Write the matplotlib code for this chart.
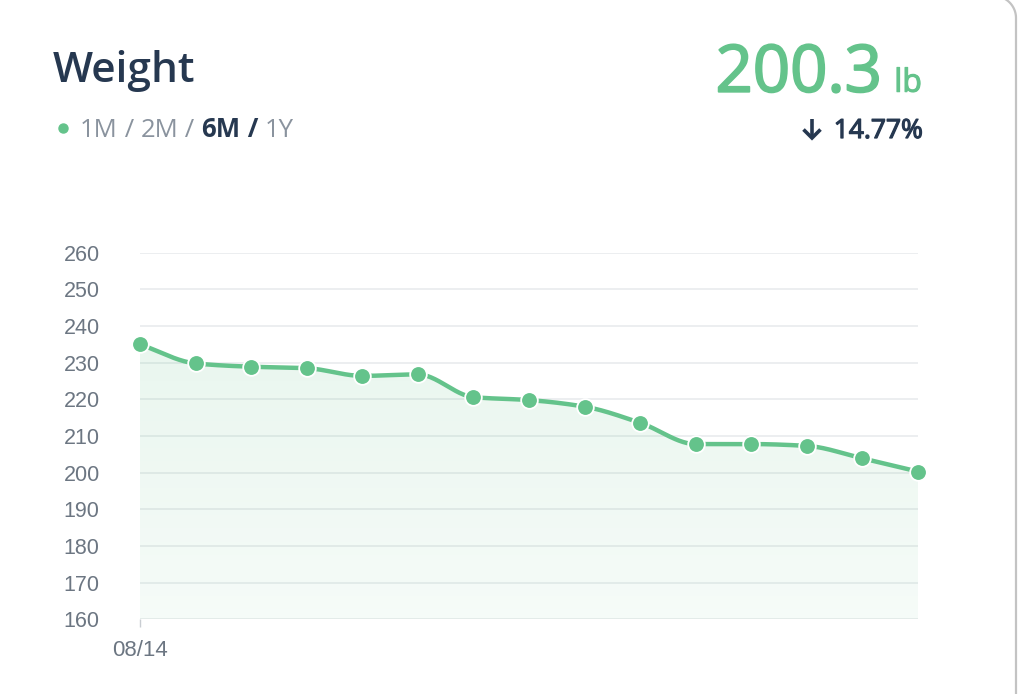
import numpy as np
import matplotlib
matplotlib.use("Agg")
import matplotlib.pyplot as plt
import matplotlib.patheffects as pe
from matplotlib.path import Path
from matplotlib.patches import PathPatch
from matplotlib.transforms import IdentityTransform

# ---- data ----
weights = [235.0, 229.8, 228.9, 228.5, 226.4, 226.8, 220.6, 219.8,
           218.0, 213.6, 207.8, 207.8, 207.3, 203.9, 200.3]
x_labels = ["08/14"]
y_ticks = [160, 170, 180, 190, 200, 210, 220, 230, 240, 250, 260]
title = "Weight"
current_value = "200.3"
unit = "lb"
change_text = "14.77%"
ranges = ["1M", "2M", "6M", "1Y"]
active_range = "6M"

GREEN = "#64c38b"
DARK = "#263850"
GRAY_TXT = "#6c7682"
GRID = "#e7e9ec"

W, H = 1020, 694
fig = plt.figure(figsize=(W / 100, H / 100), dpi=100)
fig.patch.set_facecolor("white")

x = np.arange(len(weights), dtype=float)
y = np.array(weights)

# monotone cubic (PCHIP) for the smooth line
def pchip(xk, yk, xs):
    h = np.diff(xk)
    d = np.diff(yk) / h
    n = len(xk)
    m = np.zeros(n)
    for k in range(1, n - 1):
        if d[k - 1] * d[k] <= 0:
            m[k] = 0
        else:
            w1 = 2 * h[k] + h[k - 1]
            w2 = h[k] + 2 * h[k - 1]
            m[k] = (w1 + w2) / (w1 / d[k - 1] + w2 / d[k])
    m[0] = d[0]
    m[-1] = d[-1]
    idx = np.clip(np.searchsorted(xk, xs) - 1, 0, n - 2)
    t = (xs - xk[idx]) / h[idx]
    h00 = 2 * t**3 - 3 * t**2 + 1
    h10 = t**3 - 2 * t**2 + t
    h01 = -2 * t**3 + 3 * t**2
    h11 = t**3 - t**2
    return (h00 * yk[idx] + h10 * h[idx] * m[idx] + h01 * yk[idx + 1]
            + h11 * h[idx] * m[idx + 1])

xs = np.linspace(x[0], x[-1], 600)
ys = pchip(x, y, xs)

ax = fig.add_axes([140 / W, 1 - 619.3 / H, 778 / W, 366.6 / H])
ax.set_xlim(x[0], x[-1])
ax.set_ylim(y_ticks[0], y_ticks[-1])
for s in ax.spines.values():
    s.set_visible(False)
ax.set_facecolor("none")

# gridlines
for v in y_ticks:
    ax.axhline(v, color=GRID, lw=1.1, zorder=0)

# gradient fill
grad = np.linspace(0, 1, 256)[:, None]
rgba = np.zeros((256, 1, 4))
rgba[..., 0] = 0.39
rgba[..., 1] = 0.76
rgba[..., 2] = 0.54
rgba[..., 3] = (0.14 * (1 - grad) + 0.06 * grad)[:, :]
top = ys.max()
im = ax.imshow(rgba, extent=[x[0], x[-1], y_ticks[0], top], aspect="auto",
               origin="upper", zorder=1, interpolation="bilinear")
verts = np.column_stack([np.r_[xs, xs[-1], xs[0]], np.r_[ys, y_ticks[0], y_ticks[0]]])
clip = PathPatch(Path(verts), transform=ax.transData, facecolor="none", edgecolor="none")
ax.add_patch(clip)
im.set_clip_path(clip)
ax.set_xlim(x[0], x[-1])
ax.set_ylim(y_ticks[0], y_ticks[-1])

ax.plot(xs, ys, color=GREEN, lw=3.2, zorder=3, solid_capstyle="round", clip_on=False)
ax.plot(x, y, "o", ms=12, color=GREEN, mec="white", mew=1.3, zorder=4, clip_on=False)

ax.set_yticks(y_ticks)
ax.set_yticklabels([str(v) for v in y_ticks], fontsize=15.5, color=GRAY_TXT,
                   family=["Liberation Sans", "DejaVu Sans"])
ax.tick_params(axis="y", length=0, pad=29)
ax.set_xticks([0])
ax.set_xticklabels(x_labels, fontsize=16, color=GRAY_TXT,
                   family=["Liberation Sans", "DejaVu Sans"])
ax.tick_params(axis="x", length=6, width=1, color="#c9cdd2", pad=9)

# header texts
fig.text(53 / W, 1 - 82 / H, title, fontsize=30.5, color=DARK, weight="semibold",
         family=["Open Sans", "DejaVu Sans"], va="baseline", ha="left")

fig.canvas.draw()
renderer = fig.canvas.get_renderer()
xpos = 80
parts = []
for i, r in enumerate(ranges):
    parts.append((r, r == active_range))
    if i < len(ranges) - 1:
        parts.append((" / ", r == active_range))
for txt, bold in parts:
    t = fig.text(xpos / W, 1 - 137 / H, txt, fontsize=18.5,
                 color=DARK if bold else "#8a939e",
                 weight="bold" if bold else "normal",
                 family=["Open Sans", "DejaVu Sans"], va="baseline", ha="left")
    bb = t.get_window_extent(renderer)
    xpos += bb.width
fig.add_artist(plt.Line2D([63 / W], [1 - 128 / H], marker="o", ms=6.5,
                          color=GREEN, mec=GREEN, transform=fig.transFigure))

fig.text(882 / W, 1 - 91.7 / H, current_value, fontsize=47, color=GREEN,
         family=["Open Sans", "DejaVu Sans"], va="baseline", ha="right",
         path_effects=[pe.withStroke(linewidth=1.4, foreground=GREEN)])
fig.text(922 / W, 1 - 91.7 / H, unit, fontsize=23, color=GREEN,
         family=["Open Sans", "DejaVu Sans"], va="baseline", ha="right",
         path_effects=[pe.withStroke(linewidth=0.8, foreground=GREEN)])
fig.text(923 / W, 1 - 138 / H, change_text, fontsize=19, color=DARK,
         family=["Open Sans", "DejaVu Sans"], va="baseline", ha="right",
         path_effects=[pe.withStroke(linewidth=0.9, foreground=DARK)])

# down arrow glyph drawn as strokes (pixel coords from bottom)
ax_x = 812
shaft = plt.Line2D([ax_x, ax_x], [H - 119, H - 138], color=DARK, lw=2.6,
                   transform=IdentityTransform(), solid_capstyle="butt")
head = plt.Line2D([ax_x - 8.5, ax_x, ax_x + 8.5], [H - 129.5, H - 138, H - 129.5],
                  color=DARK, lw=2.6, transform=IdentityTransform(),
                  solid_joinstyle="miter", solid_capstyle="butt")
fig.add_artist(shaft)
fig.add_artist(head)

# card border (right edge with rounded top-right corner), pixel coords from bottom
r = 22
cx, cy = 994, H + 4 - r
theta = np.linspace(np.pi / 2, 0, 30)
arc = np.column_stack([cx + r * np.cos(theta), cy + r * np.sin(theta)])
pts = np.vstack([[cx - 60, H + 4], arc, [1016, -5]])
border = PathPatch(Path(pts), transform=IdentityTransform(), facecolor="none",
                   edgecolor="#c3c3c3", lw=1.6)
fig.add_artist(border)

fig.savefig("out.png", dpi=100, facecolor="white")
